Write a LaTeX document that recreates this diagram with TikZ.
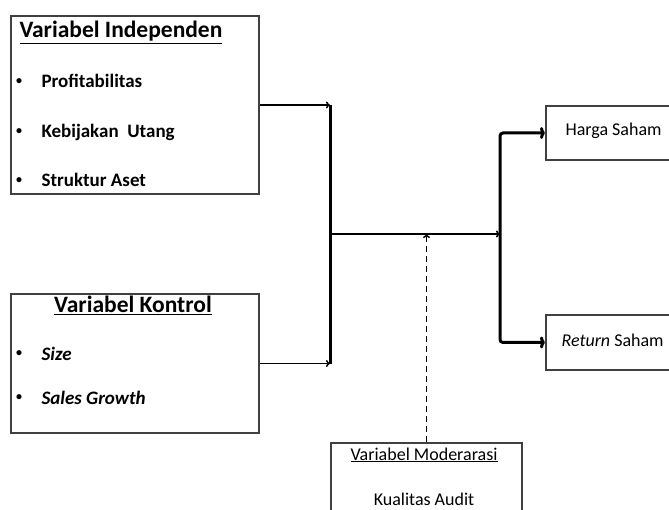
\documentclass[tikz,border=0pt]{standalone}
\usepackage{fontspec}
\setmainfont{Carlito}
\usetikzlibrary{positioning,arrows.meta}

\begin{document}
\begin{tikzpicture}
[x=1pt, y=-1pt,
varbox/.style={draw=black!75, line width=2pt, anchor=north west, inner sep=0pt},
head/.style={font=\fontsize{23.5}{28}\selectfont\bfseries, anchor=base west},
item/.style={font=\fontsize{19}{23}\selectfont\bfseries, anchor=base west},
bul/.style={font=\fontsize{12}{14}\selectfont\bfseries, anchor=center},
outtext/.style={font=\fontsize{18}{22}\selectfont, anchor=base west},
modtext/.style={font=\fontsize{18}{22}\selectfont, anchor=base},
thinarrow/.style={line width=1.5pt, -{To[length=4pt,width=7pt]}},
thickarrow/.style={line width=3pt, rounded corners=3pt, -{To[length=5pt,width=12pt]}},]
    \useasboundingbox (0,0) rectangle (669,510);

    % independent variables
    \node (indep) [varbox, minimum width=248pt, minimum height=178pt] at (10,15) {};
    \node (indephead) [head] at (16,38) {\underline{Variabel Independen}};
    \node (bul1) [bul] at (19,82) {\textbullet};
    \node (profit) [item] at (38,88) {Profitabilitas};
    \node (bul2) [bul] at (19,132) {\textbullet};
    \node (utang) [item] at (38,138) {Kebijakan\ \ Utang};
    \node (bul3) [bul] at (19,181) {\textbullet};
    \node (aset) [item] at (38,187) {Struktur Aset};

    % control variables
    \node (kontrol) [varbox, minimum width=248pt, minimum height=139pt] at (10,293) {};
    \node (kontrolhead) [head, anchor=base] at (133,313) {\underline{Variabel Kontrol}};
    \node (bul4) [bul] at (19,354) {\textbullet};
    \node (size) [item] at (38,360) {\textit{Size}};
    \node (bul5) [bul] at (19,398) {\textbullet};
    \node (growth) [item] at (38,404) {\textit{Sales Growth}};

    % dependent variables
    \node (harga) [varbox, minimum width=130pt, minimum height=54pt] at (545,105) {};
    \node (hargatext) [outtext] at (562,136) {Harga Saham};
    \node (return) [varbox, minimum width=130pt, minimum height=55pt] at (545,314) {};
    \node (returntext) [outtext] at (558,347) {\textit{Return} Saham};

    % moderating variable
    \node (moder) [varbox, minimum width=191pt, minimum height=100pt] at (330,442) {};
    \node (moderhead) [modtext] at (424,460) {\underline{Variabel Moderarasi}};
    \node (audit) [modtext] at (424,505) {Kualitas Audit};

    \coordinate (merge) at (330,234);
    \coordinate (split) at (500,234);

    \draw[thinarrow] (indep.east) -- (indep.east -| merge);
    \draw[thinarrow] (kontrol.east) -- (kontrol.east -| merge);
    \draw[line width=3pt] (indep.east -| merge) -- (kontrol.east -| merge);
    \draw[thinarrow] (merge) -- (split);
    \draw[thickarrow] (split) |- (harga.west);
    \draw[thickarrow] (split) |- (return.west);
    \draw[thinarrow, dash pattern=on 6pt off 4pt] (moder.north) -- (moder.north |- merge);
\end{tikzpicture}
\end{document}
